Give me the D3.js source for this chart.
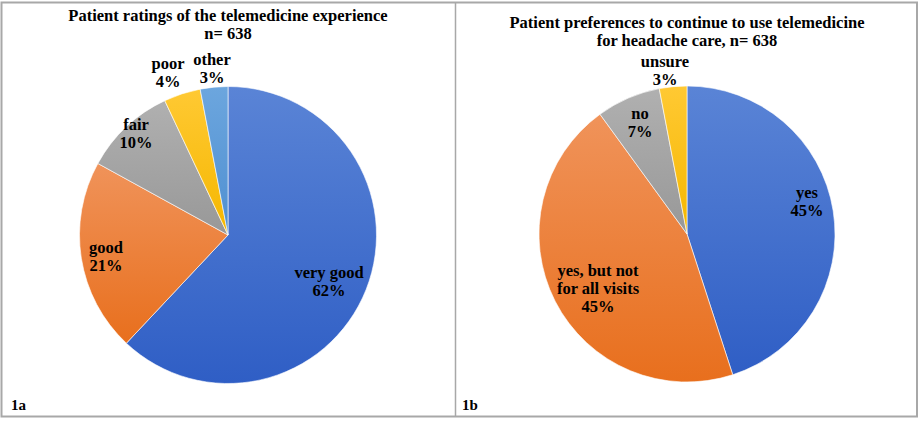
<!DOCTYPE html>
<html><head><meta charset="utf-8">
<script src="https://cdn.jsdelivr.net/npm/d3@7"></script>
<style>body{margin:0;background:#fff}svg{display:block}text{font-family:"Liberation Serif","Times New Roman",serif;font-weight:bold;fill:#000}</style>
</head><body><svg id="c" width="921" height="422"></svg>
<script>
const categoriesA = ["very good", "good", "fair", "poor", "other"];
const valuesA = [62, 21, 10, 4, 3];
const categoriesB = ["yes", "yes, but not for all visits", "no", "unsure"];
const valuesB = [45, 45, 7, 3];
const titleA = ["Patient ratings of the telemedicine experience", "n= 638"];
const titleB = ["Patient preferences to continue to use telemedicine", "for headache care, n= 638"];

const palette = [
  ["#5a84d6", "#2f5ec5"],
  ["#f0935a", "#e86f1d"],
  ["#b0b0b0", "#989898"],
  ["#ffc933", "#f5b700"],
  ["#6ca6de", "#4f8fd1"]
];

const svg = d3.select("#c");
const defs = svg.append("defs");
palette.forEach((p, i) => {
  const g = defs.append("linearGradient").attr("id", "g" + i).attr("x1", 0).attr("y1", 0).attr("x2", 0).attr("y2", 1);
  g.append("stop").attr("offset", "0%").attr("stop-color", p[0]);
  g.append("stop").attr("offset", "100%").attr("stop-color", p[1]);
});

svg.append("rect").attr("x", 1.5).attr("y", 2.5).attr("width", 915.5).attr("height", 414).attr("fill", "none").attr("stroke", "#a8a8a8").attr("stroke-width", 2);
svg.append("line").attr("x1", 455.5).attr("x2", 455.5).attr("y1", 3).attr("y2", 416).attr("stroke", "#a8a8a8").attr("stroke-width", 1.5);

const FS = 16.5;
function drawPie(cx, cy, r, values, labels, labelPos, title, titleY, tag) {
  const pie = d3.pie().sort(null).value(d => d)(values);
  const arc = d3.arc().innerRadius(0).outerRadius(r);
  const g = svg.append("g").attr("transform", `translate(${cx},${cy})`);
  g.selectAll("path").data(pie).join("path")
    .attr("d", arc).attr("fill", (d, i) => `url(#g${i})`)
    .attr("stroke", "#fff").attr("stroke-width", 0.6);
  labels.forEach((lines, i) => {
    const t = svg.append("text").attr("text-anchor", "middle").attr("font-size", FS);
    lines.forEach((ln, j) => {
      t.append("tspan").attr("x", labelPos[i][0]).attr("y", labelPos[i][1] + j * 18).text(ln);
    });
  });
  const tt = svg.append("text").attr("text-anchor", "middle").attr("font-size", FS);
  title.forEach((ln, j) => tt.append("tspan").attr("x", cx).attr("y", titleY + j * 18).text(ln));
  svg.append("text").attr("x", tag[1]).attr("y", 410).attr("font-size", 15).text(tag[0]);
}

drawPie(228, 235, 148.5, valuesA,
  [["very good", valuesA[0] + "%"], ["good", valuesA[1] + "%"], ["fair", valuesA[2] + "%"], ["poor", valuesA[3] + "%"], ["other", valuesA[4] + "%"]],
  [[329, 278], [106, 253], [136, 130], [168, 69], [212, 65]],
  titleA, 21, ["1a", 11]);

drawPie(687, 234, 148, valuesB,
  [["yes", valuesB[0] + "%"], ["yes, but not", "for all visits", valuesB[1] + "%"], ["no", valuesB[2] + "%"], ["unsure", valuesB[3] + "%"]],
  [[807, 198], [598, 276], [640, 119], [665, 67]],
  titleB, 28, ["1b", 462]);
</script></body></html>
